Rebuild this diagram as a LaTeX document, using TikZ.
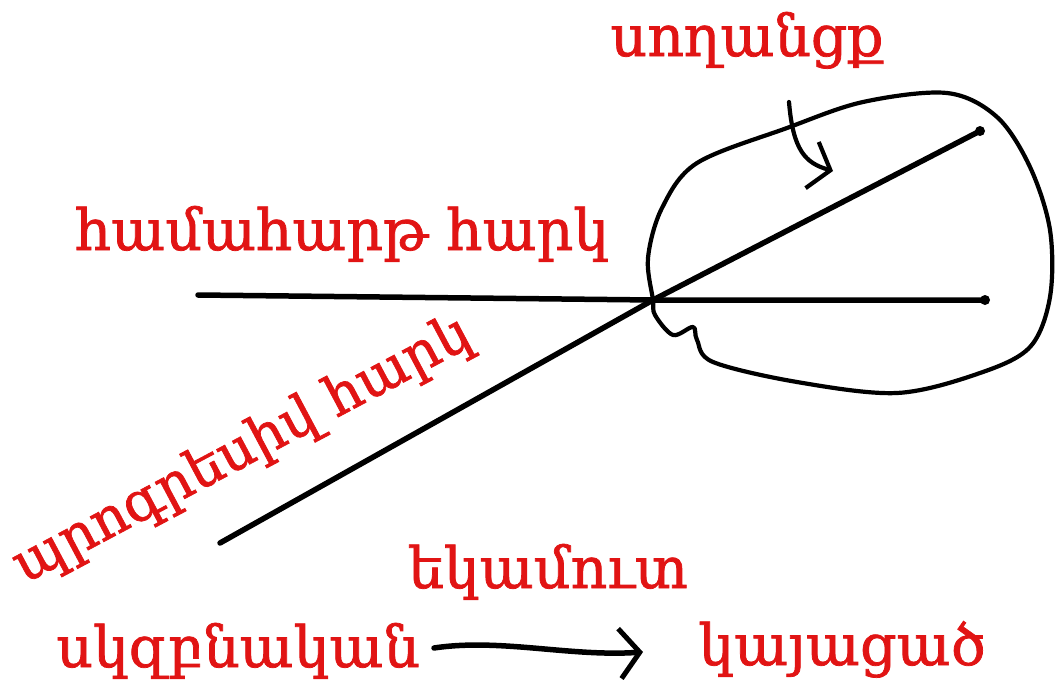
\documentclass[tikz,border=0pt]{standalone}
\usepackage{fontspec}
\newfontfamily\armfont[FakeBold=1.3]{DejaVu Serif}
\usetikzlibrary{arrows.meta}
\definecolor{lblred}{RGB}{225,20,20}
\begin{document}
\begin{tikzpicture}[x=1pt,y=-1pt,
  ink/.style={line width=5.5pt,line cap=round,line join=round},
  thinink/.style={line width=4.2pt,line cap=round,line join=round},
  lbl/.style={text=lblred,font=\armfont\fontsize{57}{60}\selectfont,inner sep=0pt,anchor=base},
  enddot/.style={circle,fill=black,inner sep=0pt,minimum size=10pt}]
\useasboundingbox (0,0) rectangle (1058,691);
% end points
\coordinate (hL) at (198,295);
\node[enddot] (hR) at (985,300) {};
\coordinate (dL) at (220,543);
\node[enddot] (dR) at (980,131) {};
\coordinate (X) at (653,300);
% lines
\draw[ink] (hL) -- (X) -- (hR.center);
\draw[ink] (dL) -- (X) -- (dR.center);
% loop
\draw[thinink] plot[smooth cycle,tension=0.55] coordinates {
  (653,300) (648,258) (662,208) (697,163) (787,128) (863,102) (947,93)
  (997,117) (1030,167) (1050,230) (1050,297) (1030,347) (980,373)
  (897,393) (797,382) (713,362) (697,340) (693,327) (673,335) (655,315)};
% labels
\node[lbl] (tunnel) at (747,56) {սողանցք};
\node[lbl] (flat) at (342,250) {համահարթ հարկ};
\node[lbl,rotate=28,font=\armfont\fontsize{55}{58}\selectfont] (prog) at (250,464) {պրոգրեսիվ հարկ};
\node[lbl] (income) at (548,588) {եկամուտ};
\node[lbl] (start) at (238,667) {սկզբնական};
\node[lbl] (done) at (842,665) {կայացած};
% arrows
\coordinate (a1s) at (789,102);
\coordinate (a1e) at (833,171);
\draw[thinink,-{Straight Barb[length=19pt,width=48pt,line width=4.2pt]}]
  (a1s) .. controls (793,150) and (805,163) .. (a1e);
\coordinate (a2s) at (434,648);
\coordinate (a2e) at (643,652);
\draw[ink,-{Straight Barb[length=20pt,width=50pt,line width=5pt]}]
  (a2s) .. controls (500,638) and (570,657) .. (a2e);
\end{tikzpicture}
\end{document}
